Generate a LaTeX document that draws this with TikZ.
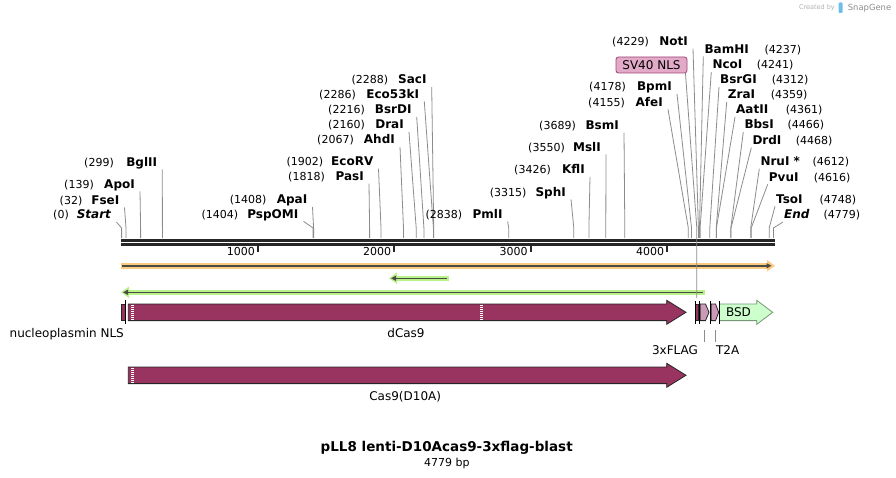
\documentclass[tikz,border=0pt]{standalone}
\usepackage{fontspec}
\setmainfont{DejaVu Sans}
\usetikzlibrary{arrows.meta}
\definecolor{casc}{RGB}{153,51,96}
\definecolor{pinkc}{RGB}{204,153,184}
\definecolor{bsdc}{RGB}{204,255,204}
\definecolor{bsdline}{RGB}{120,150,120}
\definecolor{orangeh}{RGB}{252,202,127}
\definecolor{greenh}{RGB}{184,242,136}
\definecolor{darkl}{RGB}{75,75,70}
\definecolor{sitel}{RGB}{140,140,140}
\definecolor{sv40c}{RGB}{226,170,200}
\definecolor{sv40l}{RGB}{160,70,115}
\definecolor{snapc}{RGB}{110,190,235}
\tikzset{
enz/.style={font=\fontsize{12}{14}\selectfont\bfseries, inner sep=0pt},
bpnum/.style={font=\fontsize{11}{13}\selectfont, inner sep=0pt},
featlbl/.style={font=\fontsize{12}{14}\selectfont, inner sep=0pt},
cutline/.style={draw=sitel, line width=0.8pt},
cas9/.style={draw=black!85, fill=casc, line width=0.8pt},
tag/.style={draw=black!85, fill=pinkc, line width=0.8pt},
bsd/.style={draw=bsdline, fill=bsdc, line width=0.8pt},
rule/.style={line width=2.5pt, black!85},
sv40box/.style={draw=sv40l, fill=sv40c, rounded corners=2.5pt, line width=0.8pt, minimum width=71pt, minimum height=16pt, inner sep=0pt, font=\fontsize{12}{14}\selectfont}
}
\newcommand{\cutL}[7]{%
\node[enz, anchor=base east] (#1) at (#5,#4+4) {#2};
\node[bpnum, anchor=base east] (#1-bp) at (#6,#4+4) {(#3)};
\coordinate (#1-s) at (#7,238);
\draw[cutline] ([xshift=5pt,yshift=-3pt]#1.base east) -- ([yshift=10pt]#1-s) -- (#1-s);
}
\newcommand{\cutR}[7]{%
\node[enz, anchor=base west] (#1) at (#5,#4+4) {#2};
\node[bpnum, anchor=base west] (#1-bp) at (#6,#4+4) {(#3)};
\coordinate (#1-s) at (#7,238);
\draw[cutline] ([xshift=-1pt,yshift=-3pt]#1.base west) -- ([yshift=10pt]#1-s) -- (#1-s);
}
\newcommand{\farrow}[5]{%
\draw[#1] (#2,#5-8.3) -- (#3,#5-8.3) -- (#3,#5-12) -- (#4,#5) -- (#3,#5+12) -- (#3,#5+8.3) -- (#2,#5+8.3) -- cycle;
}
\begin{document}
\begin{tikzpicture}[x=1pt,y=-1pt]
\useasboundingbox (0,0) rectangle (896,478);
\fill[white] (0,0) rectangle (896,478);
\cutL{Start}{\textit{Start}}{0}{215}{111.5}{69}{121.6}
\cutL{FseI}{FseI}{32}{200.5}{119.5}{82.5}{126}
\cutL{ApoI}{ApoI}{139}{184.3}{135}{94}{140.6}
\cutL{BglII}{BglII}{299}{162.5}{157.3}{114}{162.4}
\cutL{PspOMI}{PspOMI}{1404}{214.3}{298.5}{238.3}{313.1}
\cutL{ApaI}{ApaI}{1408}{200}{307.5}{266.7}{313.6}
\cutL{PasI}{PasI}{1818}{176.7}{364}{325}{369.6}
\cutL{EcoRV}{EcoRV}{1902}{161.7}{373.5}{323.3}{381}
\cutL{AhdI}{AhdI}{2067}{140}{395}{354}{403.5}
\cutL{DraI}{DraI}{2160}{125}{404}{365}{416.2}
\cutL{BsrDI}{BsrDI}{2216}{110}{411.7}{365}{423.9}
\cutL{Eco53kI}{Eco53kI}{2286}{94.5}{419.3}{356}{433.4}
\cutL{SacI}{SacI}{2288}{80}{426.7}{388.3}{433.7}
\cutL{PmlI}{PmlI}{2838}{214.5}{502.7}{462.3}{508.7}
\cutL{SphI}{SphI}{3315}{192.3}{566}{526.7}{573.8}
\cutL{KflI}{KflI}{3426}{170}{585}{551}{588.9}
\cutL{MslI}{MslI}{3550}{147.3}{601}{565}{605.8}
\cutL{BsmI}{BsmI}{3689}{125.7}{619}{576}{624.8}
\cutL{AfeI}{AfeI}{4155}{102.3}{663}{625}{688.3}
\cutL{BpmI}{BpmI}{4178}{87}{672}{626}{691.5}
\cutL{NotI}{NotI}{4229}{41.7}{688}{649}{698.4}
\cutR{BamHI}{BamHI}{4237}{49.3}{704.3}{764.3}{699.5}
\cutR{NcoI}{NcoI}{4241}{65}{712.3}{756.7}{700.1}
\cutR{BsrGI}{BsrGI}{4312}{80}{720}{771.7}{709.8}
\cutR{ZraI}{ZraI}{4359}{95}{727.7}{770.7}{716.2}
\cutR{AatII}{AatII}{4361}{110}{736}{785.7}{716.4}
\cutR{BbsI}{BbsI}{4466}{125}{744.3}{787.3}{730.8}
\cutR{DrdI}{DrdI}{4468}{140.7}{752.3}{795.7}{731}
\cutR{NruI}{NruI *}{4612}{161.7}{760.3}{812.3}{750.7}
\cutR{PvuI}{PvuI}{4616}{177.3}{768.7}{813.7}{751.2}
\cutR{TsoI}{TsoI}{4748}{199.3}{776}{819.3}{769.2}
\cutR{End}{\textit{End}}{4779}{215}{784}{823.3}{773.4}
\draw[rule] (121,240.3) -- (775,240.3);
\draw[rule] (121,244.5) -- (775,244.5);
\foreach \k in {1,...,4}{
\draw[line width=2pt, black!85] (121.6+136.4*\k,245.5) -- (121.6+136.4*\k,252);
\node[bpnum, anchor=base east] (tick\k) at (118.6+136.4*\k,255.5) {\k000};
}
\draw[line width=5.5pt, orangeh, -{Triangle[length=8pt,width=11pt]}] (121,265.8) -- (775,265.8);
\draw[line width=1.5pt, darkl, -{Triangle[length=5pt,width=5pt]}] (122,265.8) -- (771.5,265.8);
\draw[line width=5pt, greenh, -{Triangle[length=8pt,width=11pt]}] (448.7,278.3) -- (389,278.3);
\draw[line width=1.5pt, darkl, -{Triangle[length=5pt,width=5pt]}] (446.5,278.3) -- (391,278.3);
\draw[line width=5pt, greenh, -{Triangle[length=8pt,width=11pt]}] (705,292.3) -- (121,292.3);
\draw[line width=1.5pt, darkl, -{Triangle[length=5pt,width=5pt]}] (702.5,292.3) -- (123,292.3);
\draw[cas9] (121.7,304) rectangle (125.5,320.6);
\farrow{cas9}{128.3}{666.7}{686}{312.3}
\draw[white, line width=2.5pt, dash pattern=on 1pt off 1pt] (132.5,304.6) -- (132.5,320.2);
\draw[white, line width=2.5pt, dash pattern=on 1pt off 1pt] (481.3,304.6) -- (481.3,320.2);
\draw[black, line width=0.7pt] (125.3,300) -- (125.3,324);
\draw[cas9] (695.5,304) rectangle (698,320.6);
\draw[tag] (700.3,304) -- (705.5,304) -- (709,312.3) -- (705.5,320.6) -- (700.3,320.6) -- cycle;
\draw[tag] (711.3,304) -- (715.5,304) -- (718.7,312.3) -- (715.5,320.6) -- (711.3,320.6) -- cycle;
\farrow{bsd}{719.5}{756.7}{772.7}{312.3}
\foreach \b in {694.8,699.3,710.2,719.2}
\draw[black, line width=0.5pt] (\b,301) -- (\b,323.5);
\node[featlbl] (BSD) at (738.5,312.3) {BSD};
\node[sv40box] (SV40) at (651.5,65) {SV40 NLS};
\coordinate (SV40-s) at (696.8,228);
\coordinate (SV40-f) at (696.8,298);
\draw[cutline] ([xshift=-2pt,yshift=1pt]SV40.south east) -- (SV40-s) -- (SV40-f);
\farrow{cas9}{128.3}{666.7}{686}{375.3}
\draw[white, line width=2.5pt, dash pattern=on 1pt off 1pt] (132.5,367.6) -- (132.5,383.2);
\node[featlbl, anchor=base east] (NLS) at (124,337.5) {nucleoplasmin NLS};
\node[featlbl, anchor=base] (dCas9) at (406,337.5) {dCas9};
\node[featlbl, anchor=base] (FLAG) at (675,354) {3xFLAG};
\node[featlbl, anchor=base] (T2A) at (727.7,354) {T2A};
\node[featlbl, anchor=base] (D10A) at (405.2,400.5) {Cas9(D10A)};
\coordinate (FLAG-f) at (704.6,330);
\coordinate (T2A-f) at (715.6,330);
\draw[cutline] (FLAG-f) -- ++(0,11.7);
\draw[cutline] (T2A-f) -- ++(0,11.7);
\node[font=\fontsize{13.5}{16}\selectfont\bfseries, anchor=base, inner sep=0pt] (title) at (446.7,451.7) {pLL8 lenti-D10Acas9-3xflag-blast};
\node[bpnum, anchor=base] (size) at (446.8,466) {4779 bp};
\node[font=\fontsize{6.5}{8}\selectfont, text=black!30, anchor=base east, inner sep=0pt] (credit) at (835,10) {Created by};
\fill[snapc, rounded corners=1pt] (838.5,2.5) rectangle (842.5,13);
\node[font=\fontsize{8.4}{10}\selectfont, text=black!45, anchor=base west, inner sep=0pt] (snap) at (847.7,10.5) {SnapGene};
\end{tikzpicture}
\end{document}
